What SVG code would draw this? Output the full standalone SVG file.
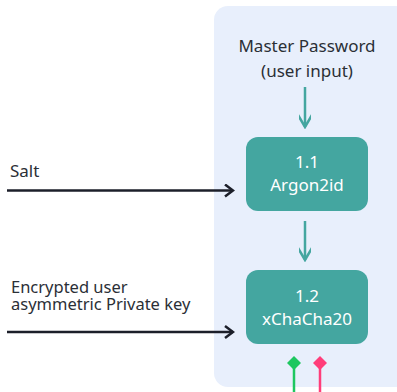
<svg xmlns="http://www.w3.org/2000/svg" width="397" height="392" viewBox="0 0 397 392">
<style>
.t{font-family:"Noto Sans","Liberation Sans",sans-serif;font-size:17px;fill:#2b2f36}
.w{font-family:"Noto Sans","Liberation Sans",sans-serif;font-size:17px;fill:#ffffff;text-anchor:middle}
.box{fill:#44a6a0}
.dk{stroke:#1c1f2a;stroke-width:2.5;fill:none}
.tl{stroke:#44a6a0;stroke-width:2.5;fill:none}
</style>
<defs>
<marker id="ad" markerWidth="12" markerHeight="14" refX="10" refY="7" orient="auto" markerUnits="userSpaceOnUse">
<path d="M2,1 L10,7 L2,13" fill="none" stroke="#1c1f2a" stroke-width="2.5"/>
</marker>
<marker id="at" markerWidth="16" markerHeight="12" refX="14" refY="6" orient="auto" markerUnits="userSpaceOnUse">
<path d="M2,-1 L14,6 L2,13" fill="none" stroke="#44a6a0" stroke-width="2.5"/>
</marker>
</defs>
<rect x="214" y="6" width="196" height="381" rx="14" fill="#e8effc"/>
<g id="master">
<text class="t" x="307" y="52" text-anchor="middle">Master Password</text>
<text class="t" x="307" y="77" text-anchor="middle">(user input)</text>
</g>
<g id="argon">
<rect class="box" x="246" y="137" width="122" height="74" rx="12"/>
<text class="w" x="307" y="168">1.1</text>
<text class="w" x="307" y="191">Argon2id</text>
</g>
<g id="xchacha">
<rect class="box" x="246" y="270" width="122" height="74" rx="12"/>
<text class="w" x="307" y="302">1.2</text>
<text class="w" x="307" y="325">xChaCha20</text>
</g>
<g id="salt">
<text class="t" x="10" y="177">Salt</text>
</g>
<g id="privkey">
<text class="t" x="11" y="293" style="font-size:16.5px">Encrypted user<tspan x="11" dy="17">asymmetric Private key</tspan></text>
</g>
<g id="connectors">
<line class="tl" x1="305" y1="87" x2="305" y2="127" marker-end="url(#at)"/>
<line class="tl" x1="305" y1="221" x2="305" y2="260" marker-end="url(#at)"/>
<line class="dk" x1="7" y1="190.5" x2="233" y2="190.5" marker-end="url(#ad)"/>
<line class="dk" x1="7" y1="332" x2="233" y2="332" marker-end="url(#ad)"/>
<line x1="294" y1="363" x2="294" y2="392" stroke="#1ec760" stroke-width="2.5"/>
<path d="M294,356 L301,363 L294,370 L287,363 Z" fill="#1ec760"/>
<line x1="320" y1="363" x2="320" y2="392" stroke="#ff3d7a" stroke-width="2.5"/>
<path d="M320,356 L327,363 L320,370 L313,363 Z" fill="#ff3d7a"/>
</g>
</svg>
